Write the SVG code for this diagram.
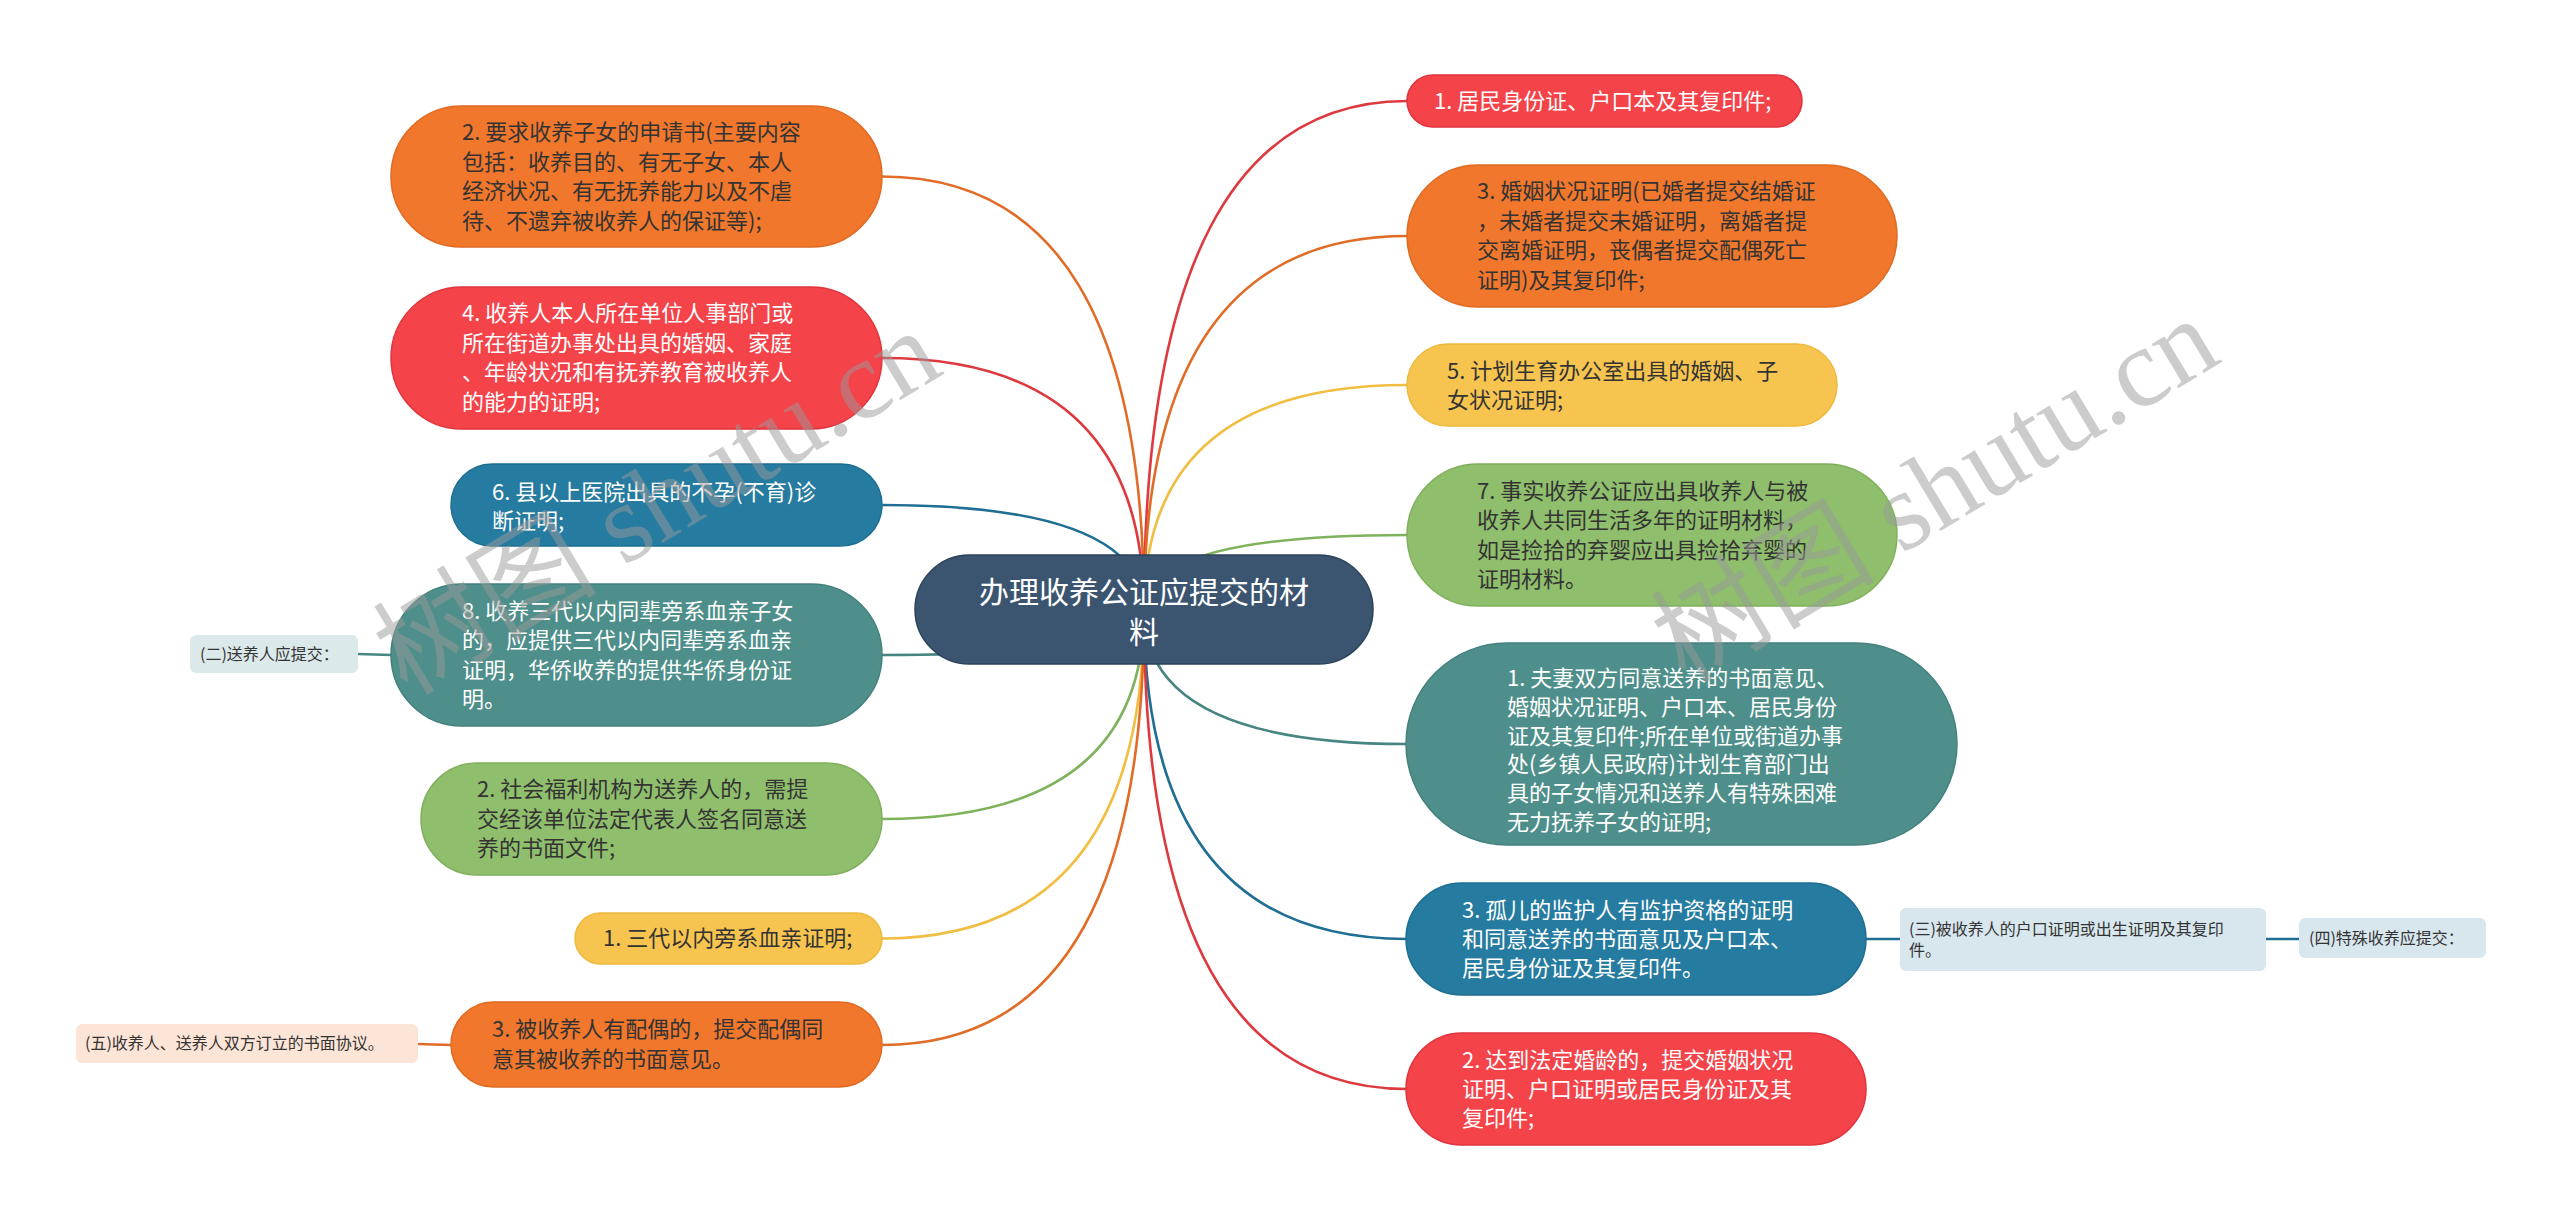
<svg xmlns="http://www.w3.org/2000/svg" width="2560" height="1220" viewBox="0 0 2560 1220">
<style>
text{font-family:"Noto Sans CJK SC","Noto Sans",sans-serif;}
.t{font-size:22px;}
.w{fill:#ffffff;}
.d{fill:#333333;}
.s{font-size:16px;fill:#333333;}
.c{fill:none;stroke-width:2.6;}
.orange{fill:#F0772B;stroke:#E06A22;stroke-width:1.5;}
.red{fill:#F5434A;stroke:#E0353D;stroke-width:1.5;}
.blue{fill:#267BA0;stroke:#1E6E92;stroke-width:1.5;}
.teal{fill:#4E8F8B;stroke:#43817D;stroke-width:1.5;}
.green{fill:#8FBE6C;stroke:#80B05D;stroke-width:1.5;}
.yellow{fill:#F7C54F;stroke:#EDB93F;stroke-width:1.5;}
.wm{font-family:"Liberation Serif","Noto Sans CJK SC",serif;font-size:112px;fill:#9a9a9a;fill-opacity:0.5;}
</style>
<rect width="2560" height="1220" fill="#ffffff"/>
<g id="connectors">
<path class="c" stroke="#E06C27" d="M1144 610 Q1144 176.5 882 176.5"/>
<path class="c" stroke="#DD3A40" d="M1144 610 Q1144 358 882 358"/>
<path class="c" stroke="#1F6E93" d="M1144 610 Q1144 505 882 505"/>
<path class="c" stroke="#468581" d="M1144 610 Q1144 655 882 655"/>
<path class="c" stroke="#7FB25C" d="M1144 610 Q1144 819 882 819"/>
<path class="c" stroke="#F0BE42" d="M1144 610 Q1144 938.5 882 938.5"/>
<path class="c" stroke="#E06C27" d="M1144 610 Q1144 1045 882 1045"/>
<path class="c" stroke="#DD3A40" d="M1144 610 Q1144 101 1407 101"/>
<path class="c" stroke="#E06C27" d="M1144 610 Q1144 236 1407 236"/>
<path class="c" stroke="#F0BE42" d="M1144 610 Q1144 385 1407 385"/>
<path class="c" stroke="#7FB25C" d="M1144 610 Q1144 535 1407 535"/>
<path class="c" stroke="#468581" d="M1144 610 Q1144 744 1407 744"/>
<path class="c" stroke="#1F6E93" d="M1144 610 Q1144 939 1407 939"/>
<path class="c" stroke="#DD3A40" d="M1144 610 Q1144 1089 1407 1089"/>
<path class="c" stroke="#468581" d="M391 655 L358 654"/>
<path class="c" stroke="#E06C27" d="M451 1045 L418 1044"/>
<path class="c" stroke="#1F6E93" d="M1866 939 L1900 939"/>
<path class="c" stroke="#1F6E93" d="M2266 939 L2299 939"/>
</g>
<g id="root">
<rect x="915" y="555" width="458" height="109" rx="54.5" fill="#3B5571" stroke="#2C4258" stroke-width="1.5"/>
<text x="1144" y="603" text-anchor="middle" fill="#ffffff" font-size="30">办理收养公证应提交的材</text>
<text x="1144" y="643" text-anchor="middle" fill="#ffffff" font-size="30">料</text>
</g>
<g id="L1">
<rect class="orange" x="391" y="106" width="491" height="141" rx="70.5"/>
<text class="t d" x="462"><tspan x="462" y="140">2. 要求收养子女的申请书(主要内容</tspan><tspan x="462" y="170">包括：收养目的、有无子女、本人</tspan><tspan x="462" y="199">经济状况、有无抚养能力以及不虐</tspan><tspan x="462" y="229">待、不遗弃被收养人的保证等);</tspan></text>
</g>
<g id="L2">
<rect class="red" x="391" y="287" width="491" height="142" rx="71"/>
<text class="t w"><tspan x="462" y="321">4. 收养人本人所在单位人事部门或</tspan><tspan x="462" y="351">所在街道办事处出具的婚姻、家庭</tspan><tspan x="462" y="380">、年龄状况和有抚养教育被收养人</tspan><tspan x="462" y="410">的能力的证明;</tspan></text>
</g>
<g id="L3">
<rect class="blue" x="451" y="464" width="431" height="82" rx="41"/>
<text class="t w"><tspan x="492" y="500">6. 县以上医院出具的不孕(不育)诊</tspan><tspan x="492" y="529">断证明;</tspan></text>
</g>
<g id="L4">
<rect class="teal" x="391" y="584" width="491" height="142" rx="71"/>
<text class="t w"><tspan x="462" y="619">8. 收养三代以内同辈旁系血亲子女</tspan><tspan x="462" y="648">的，应提供三代以内同辈旁系血亲</tspan><tspan x="462" y="678">证明，华侨收养的提供华侨身份证</tspan><tspan x="462" y="707">明。</tspan></text>
</g>
<g id="L5">
<rect class="green" x="421" y="763" width="461" height="112" rx="56"/>
<text class="t d"><tspan x="477" y="797">2. 社会福利机构为送养人的，需提</tspan><tspan x="477" y="827">交经该单位法定代表人签名同意送</tspan><tspan x="477" y="856">养的书面文件;</tspan></text>
</g>
<g id="L6">
<rect class="yellow" x="575" y="913" width="307" height="51" rx="25.5"/>
<text class="t d" x="603" y="946">1. 三代以内旁系血亲证明;</text>
</g>
<g id="L7">
<rect class="orange" x="451" y="1002" width="431" height="85" rx="42.5"/>
<text class="t d"><tspan x="492" y="1037">3. 被收养人有配偶的，提交配偶同</tspan><tspan x="492" y="1067">意其被收养的书面意见。</tspan></text>
</g>
<g id="N2">
<rect x="190" y="635" width="168" height="38" rx="6" fill="#DCE9EA"/>
<text class="s" x="200" y="660">(二)送养人应提交：</text>
</g>
<g id="N5">
<rect x="76" y="1024" width="342" height="39" rx="6" fill="#FCE4D6"/>
<text class="s" x="85" y="1049">(五)收养人、送养人双方订立的书面协议。</text>
</g>
<g id="R1">
<rect class="red" x="1407" y="75" width="395" height="52" rx="26"/>
<text class="t w" x="1434" y="109">1. 居民身份证、户口本及其复印件;</text>
</g>
<g id="R2">
<rect class="orange" x="1407" y="165" width="490" height="142" rx="71"/>
<text class="t d"><tspan x="1477" y="199">3. 婚姻状况证明(已婚者提交结婚证</tspan><tspan x="1477" y="229">，未婚者提交未婚证明，离婚者提</tspan><tspan x="1477" y="258">交离婚证明，丧偶者提交配偶死亡</tspan><tspan x="1477" y="288">证明)及其复印件;</tspan></text>
</g>
<g id="R3">
<rect class="yellow" x="1407" y="344" width="430" height="82" rx="41"/>
<text class="t d"><tspan x="1447" y="379">5. 计划生育办公室出具的婚姻、子</tspan><tspan x="1447" y="408">女状况证明;</tspan></text>
</g>
<g id="R4">
<rect class="green" x="1407" y="464" width="490" height="142" rx="71"/>
<text class="t d"><tspan x="1477" y="499">7. 事实收养公证应出具收养人与被</tspan><tspan x="1477" y="528">收养人共同生活多年的证明材料，</tspan><tspan x="1477" y="558">如是捡拾的弃婴应出具捡拾弃婴的</tspan><tspan x="1477" y="587">证明材料。</tspan></text>
</g>
<g id="R5">
<rect class="teal" x="1406" y="643" width="551" height="202" rx="101"/>
<text class="t w"><tspan x="1507" y="686">1. 夫妻双方同意送养的书面意见、</tspan><tspan x="1507" y="715">婚姻状况证明、户口本、居民身份</tspan><tspan x="1507" y="744">证及其复印件;所在单位或街道办事</tspan><tspan x="1507" y="772">处(乡镇人民政府)计划生育部门出</tspan><tspan x="1507" y="801">具的子女情况和送养人有特殊困难</tspan><tspan x="1507" y="830">无力抚养子女的证明;</tspan></text>
</g>
<g id="R6">
<rect class="blue" x="1406" y="883" width="460" height="112" rx="56"/>
<text class="t w"><tspan x="1462" y="918">3. 孤儿的监护人有监护资格的证明</tspan><tspan x="1462" y="947">和同意送养的书面意见及户口本、</tspan><tspan x="1462" y="976">居民身份证及其复印件。</tspan></text>
</g>
<g id="R7">
<rect class="red" x="1406" y="1033" width="460" height="112" rx="56"/>
<text class="t w"><tspan x="1462" y="1068">2. 达到法定婚龄的，提交婚姻状况</tspan><tspan x="1462" y="1097">证明、户口证明或居民身份证及其</tspan><tspan x="1462" y="1126">复印件;</tspan></text>
</g>
<g id="N3">
<rect x="1900" y="908" width="366" height="63" rx="6" fill="#D8E6EE"/>
<text class="s"><tspan x="1909" y="935">(三)被收养人的户口证明或出生证明及其复印</tspan><tspan x="1909" y="956">件。</tspan></text>
</g>
<g id="N4">
<rect x="2299" y="918" width="187" height="40" rx="6" fill="#D8E6EE"/>
<text class="s" x="2309" y="944">(四)特殊收养应提交：</text>
</g>
<g id="watermark">
<text class="wm" x="657" y="540" text-anchor="middle" transform="rotate(-31 657 502)">树图 shutu.cn</text>
<text class="wm" x="1935" y="528" text-anchor="middle" transform="rotate(-31 1935 490)">树图 shutu.cn</text>
</g>
</svg>
